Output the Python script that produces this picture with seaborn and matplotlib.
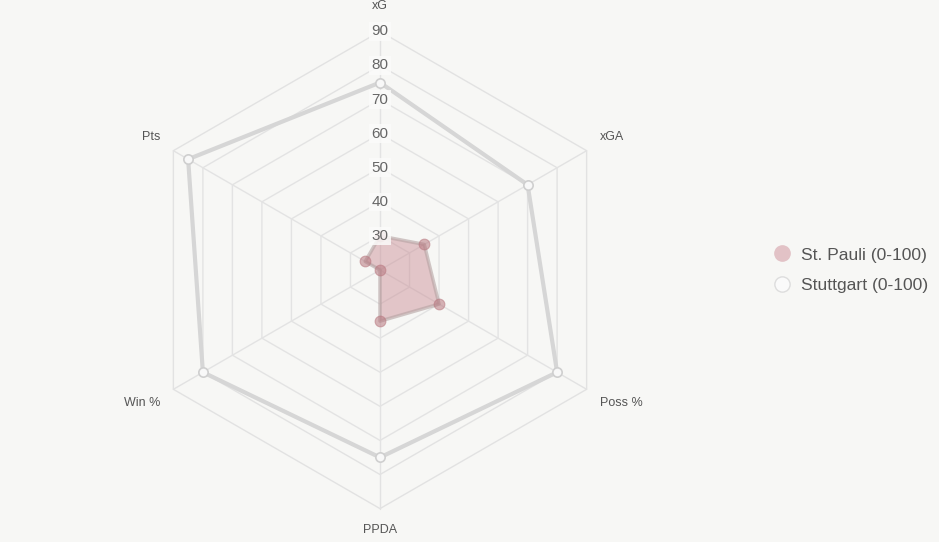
import numpy as np
import pandas as pd
import matplotlib
matplotlib.use("Agg")
import matplotlib.pyplot as plt
import seaborn as sns
from matplotlib.lines import Line2D

# ---- data ----
axes_labels = ["xG", "xGA", "Poss %", "PPDA", "Win %", "Pts"]
st_pauli = [30, 35, 40, 35, 20, 25]
stuttgart = [75, 70, 80, 75, 80, 85]
series_names = ["St. Pauli (0-100)", "Stuttgart (0-100)"]
tick_values = [30, 40, 50, 60, 70, 80, 90]
r_min, r_max = 20, 90

BG = "#f7f7f5"
GRID = "#e2e2e2"

sns.set_theme(style="white")
plt.rcParams["font.family"] = ["Liberation Sans", "DejaVu Sans"]

W, H = 939, 542
fig = plt.figure(figsize=(W / 100, H / 100), dpi=100, facecolor=BG)

# axes in pixel terms: center (380,270), outer radius 238.6 px
cx, cy, R = 380, 270, 238.6
half = 268
ax = fig.add_axes([(cx - half) / W, (H - (cy + half)) / H, 2 * half / W, 2 * half / H])
ax.set_facecolor(BG)
lim = half / R
ax.set_xlim(-lim, lim)
ax.set_ylim(-lim, lim)
ax.axis("off")

n = len(axes_labels)
angles = np.arange(n) * 2 * np.pi / n  # clockwise from top


def to_xy(vals):
    r = (np.asarray(vals, dtype=float) - r_min) / (r_max - r_min)
    return r * np.sin(angles), r * np.cos(angles)


# grid rings
for tv in tick_values:
    x, y = to_xy([tv] * n)
    ax.plot(np.append(x, x[0]), np.append(y, y[0]), color=GRID, lw=1, zorder=1)
# spokes
for a in angles:
    ax.plot([0, np.sin(a)], [0, np.cos(a)], color=GRID, lw=1, zorder=1)

# series
rows = []
for name, vals in zip(series_names, [st_pauli, stuttgart]):
    x, y = to_xy(vals)
    for lab, xi, yi in zip(axes_labels, x, y):
        rows.append({"series": name, "axis": lab, "x": xi, "y": yi})
df = pd.DataFrame(rows)

# Stuttgart
sx, sy = to_xy(stuttgart)
ax.fill(sx, sy, color="#ffffff", alpha=0.05, zorder=2)
ax.plot(np.append(sx, sx[0]), np.append(sy, sy[0]), color="#d6d6d6", lw=3, zorder=3,
        solid_joinstyle="round")
sns.scatterplot(data=df[df.series == series_names[1]], x="x", y="y", ax=ax,
                s=45, color="#f8f8f8", edgecolor="#cfcfcf", linewidth=1.2, zorder=4, legend=False)

# St. Pauli
px, py = to_xy(st_pauli)
ax.fill(px, py, color="#c98a92", alpha=0.45, lw=0, zorder=5)
ax.plot(np.append(px, px[0]), np.append(py, py[0]), color="#b5a3a3", lw=2.5, alpha=0.6, zorder=6,
        solid_joinstyle="round")
sns.scatterplot(data=df[df.series == series_names[0]], x="x", y="y", ax=ax,
                s=60, color="#b87880", alpha=0.55, edgecolor="#b87880", linewidth=0.8, zorder=7, legend=False)

# tick labels
for tv in tick_values:
    r = (tv - r_min) / (r_max - r_min)
    ax.text(0, r, str(tv), ha="center", va="center", fontsize=11, color="#666666", zorder=8,
            bbox=dict(boxstyle="square,pad=0.15", fc="#fbfbfa", ec="none", alpha=0.85))

# axis labels
for lab, a in zip(axes_labels, angles):
    s, c = np.sin(a), np.cos(a)
    if abs(s) < 1e-6:
        rr = (264 if c > 0 else 260) / R
        ax.text(0, rr * c, lab, ha="center", va="center", fontsize=9, color="#555555")
        continue
    rr = 254 / R
    x, y = rr * s, rr * c
    ha = "left" if s > 0 else "right"
    va = "bottom" if c > 0 else "top"
    ax.text(x, y, lab, ha=ha, va=va, fontsize=9, color="#555555")

# legend
handles = [
    Line2D([0], [0], marker="o", linestyle="none", markersize=11,
           markerfacecolor="#e2c2c6", markeredgecolor="#e2c2c6"),
    Line2D([0], [0], marker="o", linestyle="none", markersize=11,
           markerfacecolor="#fafafa", markeredgecolor="#dddddd"),
]
leg = fig.legend(handles, series_names, loc="center left", bbox_to_anchor=(749 / W, 1 - 270 / H),
                 frameon=False, fontsize=12.6, handletextpad=0.05, labelspacing=0.85,
                 labelcolor="#555555")

fig.savefig("out.png", dpi=100, facecolor=BG)
